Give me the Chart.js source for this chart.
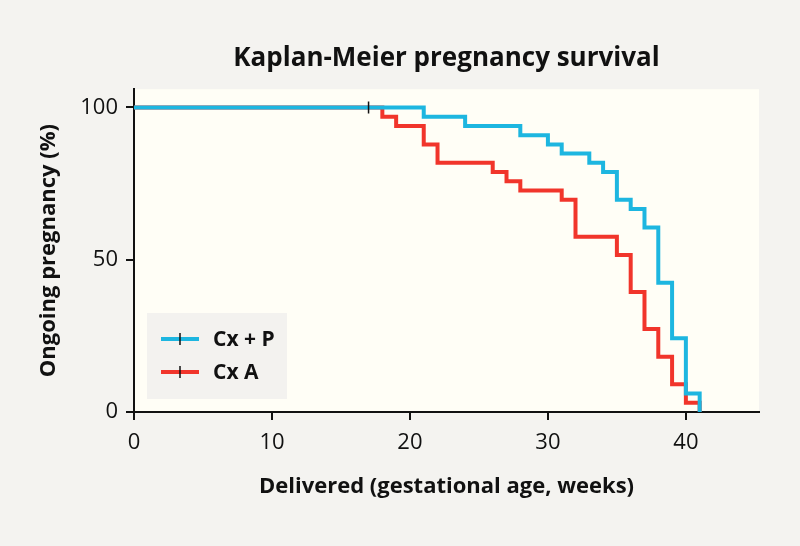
<!DOCTYPE html>
<html>
<head>
<meta charset="utf-8">
<script src="https://cdn.jsdelivr.net/npm/chart.js@4/dist/chart.umd.min.js"></script>
<style>
  html, body { margin: 0; padding: 0; background: #f4f3f0; }
  #wrap { width: 800px; height: 546px; }
</style>
</head>
<body>
<div id="wrap"><canvas id="c" width="800" height="546"></canvas></div>
<script>
// ---- Data ----
const titleText = 'Kaplan-Meier pregnancy survival';
const xTitle = 'Delivered (gestational age, weeks)';
const yTitle = 'Ongoing pregnancy (%)';
const xTicks = [0, 10, 20, 30, 40];
const yTicks = [0, 50, 100];

const seriesNames = ['Cx + P', 'Cx A'];

// Cx + P (blue)
const cxpWeeks = [0, 21, 24, 28, 30, 31, 33, 34, 35, 36, 37, 38, 39, 40, 41];
const cxpSurv  = [100, 96.97, 93.94, 90.91, 87.88, 84.85, 81.82, 78.79, 69.70, 66.67, 60.61, 42.42, 24.24, 6.06, 0];
const cxpCensorWeeks = [17];
const cxpCensorSurv = [100];

// Cx A (red)
const cxaWeeks = [0, 18, 19, 21, 22, 26, 27, 28, 31, 32, 35, 36, 37, 38, 39, 40, 41];
const cxaSurv  = [100, 96.97, 93.94, 87.88, 81.82, 78.79, 75.76, 72.73, 69.70, 57.58, 51.52, 39.39, 27.27, 18.18, 9.09, 3.03, 0];

// ---- Styles ----
const BLUE = '#1db6e0';
const RED = '#f1352b';
const FONT = '"Open Sans", "Noto Sans", sans-serif';

const toPts = (xs, ys) => xs.map((x, i) => ({x: x, y: ys[i]}));

const bgPlugin = {
  id: 'bg',
  beforeDraw(chart) {
    const ctx = chart.ctx, a = chart.chartArea;
    ctx.save();
    ctx.fillStyle = '#f4f3f0';
    ctx.fillRect(0, 0, chart.width, chart.height);
    ctx.fillStyle = '#fffef6';
    ctx.fillRect(a.left, a.top, a.right - a.left, a.bottom - a.top);
    ctx.restore();
  }
};

const legendPlugin = {
  id: 'kmLegend',
  afterDatasetsDraw(chart) {
    const ctx = chart.ctx;
    const bx = 147, by = 313, bw = 140, bh = 86;
    ctx.save();
    ctx.fillStyle = '#f3f2ef';
    ctx.fillRect(bx, by, bw, bh);
    const items = [[seriesNames[0], BLUE, 339], [seriesNames[1], RED, 372]];
    items.forEach(([label, col, y]) => {
      ctx.strokeStyle = col;
      ctx.lineWidth = 4;
      ctx.beginPath();
      ctx.moveTo(161, y);
      ctx.lineTo(199, y);
      ctx.stroke();
      ctx.strokeStyle = '#111';
      ctx.lineWidth = 1.5;
      ctx.beginPath();
      ctx.moveTo(180, y - 6);
      ctx.lineTo(180, y + 6);
      ctx.stroke();
      ctx.fillStyle = '#111';
      ctx.font = 'bold 21px ' + FONT;
      ctx.textBaseline = 'middle';
      ctx.textAlign = 'left';
      ctx.fillText(label, 213, y + 1);
    });
    ctx.restore();
  }
};

const axisColor = '#111';

new Chart(document.getElementById('c'), {
  type: 'line',
  data: {
    datasets: [
      {
        type: 'scatter',
        label: 'censored',
        data: toPts(cxpCensorWeeks, cxpCensorSurv),
        pointStyle: 'line',
        rotation: 90,
        radius: 6,
        borderColor: '#111',
        borderWidth: 1.5,
        showLine: false
      },
      {
        label: seriesNames[0],
        data: toPts(cxpWeeks, cxpSurv),
        stepped: true,
        borderColor: BLUE,
        borderWidth: 4,
        pointRadius: 0,
        fill: false
      },
      {
        label: seriesNames[1],
        data: toPts(cxaWeeks, cxaSurv),
        stepped: true,
        borderColor: RED,
        borderWidth: 4,
        pointRadius: 0,
        fill: false
      }
    ]
  },
  options: {
    responsive: false,
    animation: false,
    devicePixelRatio: 1,
    layout: { padding: { left: 30, right: 41, top: 0, bottom: 46 } },
    plugins: {
      legend: { display: false },
      tooltip: { enabled: false },
      title: {
        display: true,
        text: titleText,
        fullSize: false,
        color: '#111',
        font: { family: FONT, size: 26, weight: 'bold' },
        padding: { top: 43, bottom: 15 }
      }
    },
    scales: {
      x: {
        type: 'linear',
        min: 0,
        max: 45.3,
        afterBuildTicks(s) { s.ticks = xTicks.map(v => ({value: v})); },
        afterFit(s) { s.height = 88; },
        border: { display: true, color: axisColor, width: 2 },
        grid: { drawOnChartArea: false, drawTicks: true, tickLength: 8, color: axisColor, lineWidth: 2 },
        ticks: { color: '#111', padding: 10, maxRotation: 0, font: { family: FONT, size: 22 } },
        title: {
          display: true,
          text: xTitle,
          color: '#111',
          font: { family: FONT, size: 22, weight: 'bold' },
          padding: { top: 3, bottom: 0 }
        }
      },
      y: {
        type: 'linear',
        min: 0,
        max: 106,
        afterBuildTicks(s) { s.ticks = yTicks.map(v => ({value: v})); },
        afterFit(s) { s.width = 104; },
        border: { display: true, color: axisColor, width: 2 },
        grid: { drawOnChartArea: false, drawTicks: true, tickLength: 8, color: axisColor, lineWidth: 2 },
        ticks: { color: '#111', padding: 8, font: { family: FONT, size: 22 } },
        title: {
          display: true,
          text: yTitle,
          color: '#111',
          font: { family: FONT, size: 22, weight: 'bold' },
          padding: { top: 6, bottom: 0 }
        }
      }
    }
  },
  plugins: [bgPlugin, legendPlugin]
});
</script>
</body>
</html>
